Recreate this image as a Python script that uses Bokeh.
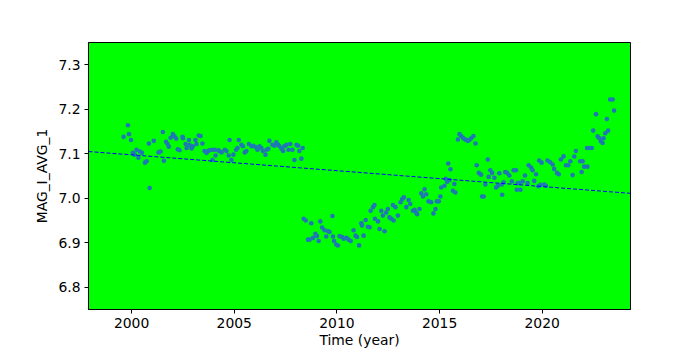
from bokeh.plotting import figure
from bokeh.models import ColumnDataSource, Range1d, FixedTicker, PrintfTickFormatter
from bokeh.embed import file_html
from bokeh.resources import INLINE

# ---- data ----
years_a = [1999.61, 1999.82, 1999.87, 1999.97, 2000.06, 2000.15, 2000.24, 2000.33, 2000.41, 2000.50,
           2000.65, 2000.73, 2000.84, 2000.88, 2001.08, 2001.31, 2001.41, 2001.52, 2001.57, 2001.68,
           2001.75, 2001.81, 2001.90, 2002.01, 2002.09, 2002.17, 2002.25, 2002.33, 2002.48, 2002.50,
           2002.63, 2002.68, 2002.79, 2002.82, 2002.92, 2002.98, 2003.11, 2003.16, 2003.27, 2003.36,
           2003.45, 2003.55, 2003.65, 2003.73, 2003.79, 2003.92, 2003.94, 2004.05, 2004.09, 2004.22,
           2004.28, 2004.38, 2004.54, 2004.62, 2004.73, 2004.77, 2004.86, 2004.96, 2005.09, 2005.16,
           2005.22, 2005.35, 2005.42, 2005.51, 2005.59, 2005.71, 2005.84, 2005.92, 2006.03, 2006.13,
           2006.23, 2006.32, 2006.39, 2006.52, 2006.57, 2006.66, 2006.71, 2006.86, 2006.96, 2007.05,
           2007.14, 2007.20, 2007.30, 2007.38, 2007.44, 2007.54, 2007.64, 2007.73, 2007.83, 2007.93,
           2008.03, 2008.11, 2008.17, 2008.27, 2008.33]
mags_a = [7.138, 7.164, 7.144, 7.131, 7.102, 7.098, 7.109, 7.091, 7.105, 7.102,
          7.080, 7.083, 7.123, 7.023, 7.129, 7.103, 7.105, 7.149, 7.084, 7.127,
          7.122, 7.116, 7.136, 7.144, 7.139, 7.134, 7.110, 7.108, 7.138, 7.135,
          7.122, 7.113, 7.131, 7.120, 7.112, 7.117, 7.131, 7.122, 7.141, 7.140,
          7.123, 7.106, 7.102, 7.106, 7.108, 7.109, 7.086, 7.109, 7.096, 7.108,
          7.106, 7.103, 7.109, 7.106, 7.096, 7.131, 7.086, 7.098, 7.109, 7.113,
          7.131, 7.120, 7.117, 7.103, 7.106, 7.122, 7.117, 7.118, 7.115, 7.109,
          7.117, 7.113, 7.106, 7.098, 7.109, 7.111, 7.129, 7.120, 7.118, 7.126,
          7.120, 7.117, 7.111, 7.106, 7.117, 7.120, 7.109, 7.122, 7.109, 7.086,
          7.120, 7.118, 7.106, 7.089, 7.113]

years_b = [2008.38, 2008.48, 2008.59, 2008.67, 2008.75, 2008.84, 2008.95, 2009.03, 2009.11, 2009.19,
           2009.28, 2009.40, 2009.48, 2009.57, 2009.64, 2009.78, 2009.81, 2009.86, 2009.97, 2010.05,
           2010.13, 2010.25, 2010.33, 2010.46, 2010.57, 2010.67, 2010.81, 2010.91, 2010.98, 2011.08,
           2011.19, 2011.22, 2011.30, 2011.40, 2011.51, 2011.59, 2011.64, 2011.76, 2011.83, 2011.85,
           2012.00, 2012.08, 2012.16, 2012.24, 2012.32, 2012.40, 2012.48, 2012.56, 2012.65, 2012.73,
           2012.76, 2012.85, 2012.97, 2013.10, 2013.18, 2013.26, 2013.38, 2013.49, 2013.57, 2013.70,
           2013.78, 2013.86, 2013.91, 2014.02, 2014.11, 2014.19, 2014.27, 2014.35, 2014.46, 2014.59,
           2014.70, 2014.80, 2014.87, 2014.96, 2015.04, 2015.08, 2015.24, 2015.30, 2015.37, 2015.42,
           2015.48, 2015.53, 2015.65, 2015.72, 2015.77]
mags_b = [6.954, 6.950, 6.907, 6.907, 6.944, 6.911, 6.920, 6.915, 6.904, 6.948,
          6.934, 6.928, 6.914, 6.926, 6.924, 6.960, 6.914, 6.904, 6.896, 6.894,
          6.915, 6.913, 6.909, 6.911, 6.907, 6.904, 6.928, 6.916, 6.913, 6.894,
          6.944, 6.939, 6.916, 6.951, 6.936, 6.935, 6.972, 6.980, 6.985, 6.954,
          6.948, 6.931, 6.972, 6.961, 6.926, 6.968, 6.976, 6.957, 6.954, 6.985,
          6.950, 6.980, 6.961, 6.991, 6.998, 7.002, 6.980, 6.996, 6.987, 6.972,
          6.974, 6.968, 6.964, 6.976, 7.011, 7.004, 7.020, 7.009, 6.993, 6.991,
          6.966, 6.976, 6.993, 6.993, 7.004, 7.024, 7.028, 7.044, 7.037, 7.078,
          7.041, 7.065, 7.017, 7.032, 7.013]

years_c = [2015.89, 2015.97, 2016.05, 2016.13, 2016.21, 2016.29, 2016.38, 2016.45, 2016.54, 2016.65, 2016.75]
mags_c = [7.132, 7.144, 7.140, 7.136, 7.133, 7.131, 7.129, 7.131, 7.135, 7.140, 7.123]

years_d = [2016.81, 2016.91, 2017.02, 2017.07, 2017.15, 2017.23, 2017.35, 2017.39, 2017.47, 2017.56,
           2017.67, 2017.75, 2017.84, 2017.91, 2018.03, 2018.05, 2018.12, 2018.20, 2018.29, 2018.40,
           2018.52, 2018.61, 2018.72, 2018.76, 2018.80, 2018.90, 2018.94, 2019.05, 2019.16, 2019.29,
           2019.34, 2019.46, 2019.53, 2019.61, 2019.70, 2019.81, 2019.85, 2019.91, 2019.97, 2020.10,
           2020.18, 2020.26, 2020.39, 2020.51, 2020.58, 2020.72, 2020.80, 2020.91, 2021.04, 2021.16,
           2021.27, 2021.37, 2021.48, 2021.56, 2021.64, 2021.85, 2021.92, 2021.97, 2022.04, 2022.18,
           2022.20, 2022.29, 2022.41, 2022.48, 2022.62, 2022.70, 2022.78, 2022.86, 2022.94, 2022.99,
           2023.07, 2023.15, 2023.21, 2023.31, 2023.43, 2023.50]
mags_d = [7.074, 7.057, 7.053, 7.004, 7.004, 7.031, 7.087, 7.048, 7.063, 7.057,
          7.046, 7.024, 7.028, 7.056, 7.031, 7.008, 7.036, 7.059, 7.057, 7.051,
          7.038, 7.063, 7.063, 7.019, 7.034, 7.035, 7.019, 7.038, 7.051, 7.034,
          7.074, 7.069, 7.063, 7.039, 7.054, 7.027, 7.085, 7.030, 7.080, 7.031,
          7.028, 7.085, 7.081, 7.076, 7.066, 7.057, 7.054, 7.087, 7.094, 7.074,
          7.074, 7.083, 7.052, 7.094, 7.106, 7.083, 7.059, 7.083, 7.071, 7.113,
          7.071, 7.113, 7.113, 7.152, 7.189, 7.139, 7.135, 7.128, 7.124, 7.135,
          7.146, 7.178, 7.152, 7.222, 7.222, 7.197]

trend_years = [1997.9, 2024.3]
trend_mags = [7.105, 7.011]

x_ticks = [2000, 2005, 2010, 2015, 2020]
y_ticks = [6.8, 6.9, 7.0, 7.1, 7.2, 7.3]
x_limits = (1997.9, 2024.3)
y_limits = (6.75, 7.35)

years = years_a + years_b + years_c + years_d
mags = mags_a + mags_b + mags_c + mags_d

src = ColumnDataSource(data=dict(year=years, mag=mags))
trend = ColumnDataSource(data=dict(year=trend_years, mag=trend_mags))

FONT = "DejaVu Sans"

p = figure(width=700, height=350, output_backend="svg", toolbar_location=None,
           x_range=Range1d(*x_limits), y_range=Range1d(*y_limits),
           min_border_left=88, min_border_right=70, min_border_top=42, min_border_bottom=36,
           background_fill_color="#00ff00", border_fill_color="white",
           outline_line_color="black", outline_line_width=1)

p.xgrid.visible = False
p.ygrid.visible = False

p.scatter("year", "mag", source=src, marker="circle", size=4.6,
          fill_color="#1f77b4", line_color=None)
p.line("year", "mag", source=trend, line_color="blue", line_dash="4 2", line_width=1)

for ax in (p.xaxis[0], p.yaxis[0]):
    ax.major_tick_out = 4
    ax.major_tick_in = 0
    ax.minor_tick_out = 0
    ax.minor_tick_in = 0
    ax.axis_line_color = "black"
    ax.major_tick_line_color = "black"
    ax.major_label_text_color = "black"
    ax.major_label_text_font = FONT
    ax.major_label_text_font_size = "13.9px"
    ax.axis_label_text_font = FONT
    ax.axis_label_text_font_size = "13.9px"
    ax.axis_label_text_font_style = "normal"
    ax.axis_label_text_color = "black"

p.xaxis[0].ticker = FixedTicker(ticks=x_ticks)
p.yaxis[0].ticker = FixedTicker(ticks=y_ticks)
p.xaxis[0].formatter = PrintfTickFormatter(format="%d")
p.yaxis[0].formatter = PrintfTickFormatter(format="%.1f")
p.xaxis[0].axis_label = "Time (year)"
p.yaxis[0].axis_label = "MAG_I_AVG_1"
p.xaxis[0].major_label_standoff = 4
p.xaxis[0].axis_label_standoff = 1
p.yaxis[0].major_label_standoff = 4
p.yaxis[0].axis_label_standoff = 5

open("out.html", "w").write(file_html(p, INLINE))
